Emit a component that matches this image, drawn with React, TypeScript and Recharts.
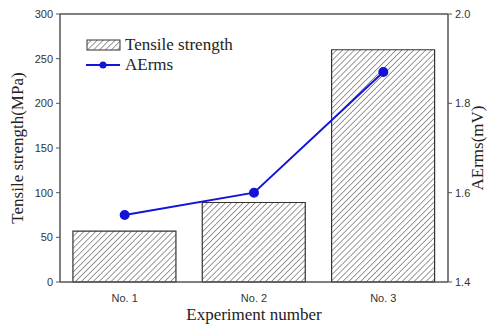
import React from "react";
import { ComposedChart, Bar, Line, XAxis, YAxis, Legend, ReferenceLine } from "recharts";

const experiments = ["No. 1", "No. 2", "No. 3"];
const tensileStrength = [57, 89, 260];
const aeRms = [1.55, 1.6, 1.87];
const leftTicks = [0, 50, 100, 150, 200, 250, 300];
const rightTicks = [1.4, 1.6, 1.8, 2.0];

const data = experiments.map((name, i) => ({
  name,
  tensile: tensileStrength[i],
  aerms: aeRms[i],
}));

const serif = "'Liberation Serif', 'Times New Roman', serif";
const sans = "'Liberation Sans', Arial, sans-serif";
const axisColor = "#555";
const blue = "#1414d8";

function AxisLabel({ viewBox, value, side }: any) {
  const { x, y, width, height } = viewBox;
  if (side === "bottom") {
    return (
      <text x={x + width / 2} y={y + height - 7} textAnchor="middle" fontFamily={serif} fontSize={17} fill="#222">
        {value}
      </text>
    );
  }
  const cx = side === "left" ? x + 23 : x + width - 6;
  const cy = y + height / 2;
  return (
    <text
      x={cx}
      y={cy}
      textAnchor="middle"
      fontFamily={serif}
      fontSize={17}
      fill="#222"
      transform={`rotate(-90, ${cx}, ${cy})`}
    >
      {value}
    </text>
  );
}

function LegendBox() {
  return (
    <div style={{ fontFamily: serif, fontSize: 17, color: "#222", lineHeight: "20px" }}>
      <div style={{ display: "flex", alignItems: "center" }}>
        <svg width={36} height={12} style={{ marginRight: 3 }}>
          <defs>
            <pattern id="legendHatch" patternUnits="userSpaceOnUse" width={4.2} height={4.2} patternTransform="rotate(45)">
              <line x1={0} y1={0} x2={0} y2={4.2} stroke="#333" strokeWidth={1} />
            </pattern>
          </defs>
          <rect x={1} y={1} width={33} height={10} fill="url(#legendHatch)" stroke="#333" strokeWidth={1} />
        </svg>
        <span>Tensile strength</span>
      </div>
      <div style={{ display: "flex", alignItems: "center" }}>
        <svg width={36} height={12} style={{ marginRight: 3 }}>
          <line x1={0} y1={6} x2={34} y2={6} stroke={blue} strokeWidth={2} />
          <circle cx={17} cy={6} r={3.5} fill={blue} />
        </svg>
        <span>AErms</span>
      </div>
    </div>
  );
}

export default function App() {
  return (
    <div style={{ width: 489, height: 327, background: "#fff" }}>
      <style>{`body{margin:0}`}</style>
      <ComposedChart
        width={489}
        height={327}
        data={data}
        margin={{ top: 14, right: 0, bottom: 0, left: 0 }}
        barCategoryGap="10%"
      >
        <defs>
          <pattern id="hatch" patternUnits="userSpaceOnUse" width={4.2} height={4.2} patternTransform="rotate(45)">
            <line x1={0} y1={0} x2={0} y2={4.2} stroke="#333" strokeWidth={1} />
          </pattern>
        </defs>
        <XAxis
          dataKey="name"
          height={45}
          tickLine={false}
          tickMargin={6}
          axisLine={{ stroke: axisColor, strokeWidth: 1.5 }}
          tick={{ fontFamily: sans, fontSize: 11, fill: "#333" }}
          label={<AxisLabel value="Experiment number" side="bottom" />}
        />
        <YAxis
          yAxisId="left"
          width={60}
          domain={[0, 300]}
          ticks={leftTicks}
          tickSize={4}
          tickMargin={3}
          axisLine={{ stroke: axisColor, strokeWidth: 1.5 }}
          tickLine={{ stroke: axisColor }}
          tick={{ fontFamily: sans, fontSize: 11, fill: "#333" }}
          label={<AxisLabel value="Tensile strength(MPa)" side="left" />}
        />
        <YAxis
          yAxisId="right"
          orientation="right"
          width={41}
          domain={[1.4, 2.0]}
          ticks={rightTicks}
          tickFormatter={(v: number) => v.toFixed(1)}
          tickSize={4}
          tickMargin={3}
          axisLine={{ stroke: axisColor, strokeWidth: 1.5 }}
          tickLine={{ stroke: axisColor }}
          tick={{ fontFamily: sans, fontSize: 11, fill: "#333" }}
          label={<AxisLabel value="AErms(mV)" side="right" />}
        />
        <ReferenceLine yAxisId="left" y={300} stroke={axisColor} strokeWidth={1.5} />
        <Bar
          yAxisId="left"
          dataKey="tensile"
          fill="url(#hatch)"
          stroke="#333"
          strokeWidth={1.2}
          isAnimationActive={false}
        />
        <Line
          yAxisId="right"
          dataKey="aerms"
          stroke={blue}
          strokeWidth={2}
          dot={{ r: 4, fill: blue, stroke: blue }}
          activeDot={false}
          isAnimationActive={false}
        />
        <Legend
          layout="vertical"
          align="center"
          verticalAlign="middle"
          content={<LegendBox />}
          wrapperStyle={{ left: 86, top: 35, width: "auto" }}
        />
      </ComposedChart>
    </div>
  );
}
